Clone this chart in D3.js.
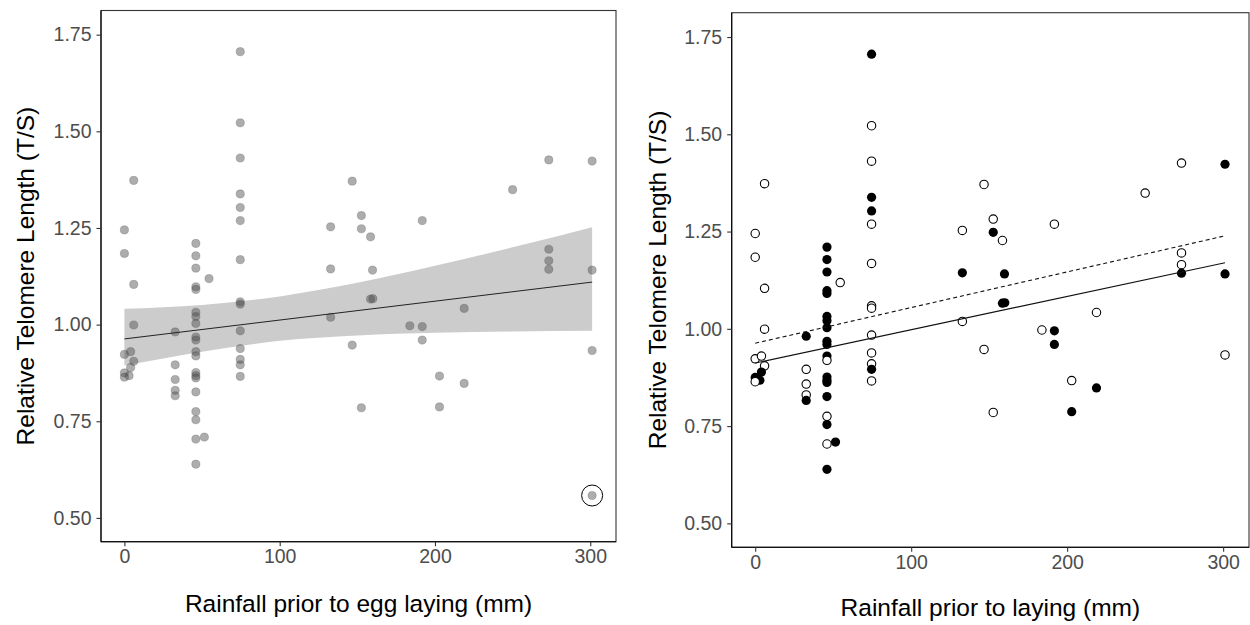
<!DOCTYPE html>
<html>
<head>
<meta charset="utf-8">
<script src="https://cdn.jsdelivr.net/npm/d3@7"></script>
<style>
  html, body { margin: 0; padding: 0; background: #fff; }
  svg { display: block; font-family: "Liberation Sans", Arial, sans-serif; }
</style>
</head>
<body>
<svg id="chart" width="1250" height="625"></svg>
<script>
// ---------------- DATA ----------------
const rainfall = [
  0, 0, 6, 6, 6, 0, 4, 6, 4, 0, 3, 0,
  32.7, 32.7, 32.7, 32.7, 32.7,
  46, 46, 46, 46, 46, 46, 46, 46, 46, 46, 46, 46, 46, 46, 46, 46, 46, 46, 46, 46, 51.5, 54.5,
  74.6, 74.6, 74.6, 74.6, 74.6, 74.6, 74.6, 74.6, 74.6, 74.6, 74.6, 74.6, 74.6, 74.6,
  132.8, 132.8, 132.8, 146.7, 146.7, 152.6, 152.6, 152.6, 158.5, 159.8, 158.5, 160,
  183.8, 191.8, 191.8, 191.8, 202.9, 202.9, 218.8, 218.8, 250,
  273.3, 273.3, 273.3, 273.3, 301.2, 301.2, 301.2
];
const telomere = [
  1.245, 1.184, 1.373, 1.104, 0.999, 0.923, 0.930, 0.905, 0.889, 0.875, 0.868, 0.864,
  0.981, 0.896, 0.858, 0.830, 0.816,
  1.210, 1.178, 1.146, 1.098, 1.091, 1.032, 1.021, 1.003, 0.968, 0.960, 0.930, 0.919, 0.876, 0.868, 0.862, 0.826, 0.775, 0.754, 0.704, 0.639, 0.709, 1.119,
  1.706, 1.522, 1.431, 1.338, 1.303, 1.269, 1.168, 1.059, 1.053, 0.984, 0.938, 0.910, 0.896, 0.866,
  1.253, 1.144, 1.019, 1.371, 0.947, 1.282, 1.248, 0.785, 1.227, 1.141, 1.066, 1.067,
  0.997, 1.269, 0.995, 0.960, 0.867, 0.787, 1.042, 0.848, 1.349,
  1.426, 1.195, 1.165, 1.143, 1.423, 1.141, 0.933
];
// 1 = filled (black), 0 = open
const filledGroup = [
  0, 0, 0, 0, 0, 0, 0, 0, 1, 1, 1, 0,
  1, 0, 0, 0, 1,
  1, 1, 1, 1, 1, 1, 1, 1, 1, 1, 1, 0, 1, 1, 1, 1, 0, 1, 0, 1, 1, 0,
  1, 0, 0, 1, 1, 0, 0, 0, 0, 0, 0, 0, 1, 0,
  0, 1, 0, 0, 0, 0, 1, 0, 0, 1, 1, 1,
  0, 0, 1, 1, 0, 1, 0, 1, 0,
  0, 0, 0, 1, 1, 1, 0
];
// outlier (left panel only, circled)
const outlierRain = [301.2];
const outlierTel = [0.558];

// left panel fit and confidence band
const fitX = [0, 301.2];
const fitY = [0.963, 1.110];
const bandX = [0, 50, 100, 150, 200, 250, 301.2];
const bandLo = [0.894, 0.930, 0.958, 0.972, 0.979, 0.982, 0.984];
const bandHi = [1.041, 1.051, 1.073, 1.108, 1.152, 1.200, 1.252];

// right panel fits
const solidY = [0.912, 1.170];
const dashedY = [0.963, 1.239];

const xTicks = [0, 100, 200, 300];
const yTicks = [0.50, 0.75, 1.00, 1.25, 1.50, 1.75];
const xTitleLeft = "Rainfall prior to egg laying (mm)";
const xTitleRight = "Rainfall prior to laying (mm)";
const yTitle = "Relative Telomere Length (T/S)";

// ---------------- DRAW ----------------
const svg = d3.select("#chart");
const pts = rainfall.map((r, i) => ({ x: r, y: telomere[i], f: filledGroup[i] }));
const xDomain = [-15.075, 316.575];
const yDomain = [0.4385, 1.8125];
const tickFont = "19.5px";
const titleFont = "24.5px";

function panel(box, opts) {
  const x = d3.scaleLinear().domain(xDomain).range([box.left, box.right]);
  const y = d3.scaleLinear().domain(yDomain).range([box.bottom, box.top]);
  const g = svg.append("g");

  g.append("rect").attr("x", box.left).attr("y", box.top)
    .attr("width", box.right - box.left).attr("height", box.bottom - box.top)
    .attr("fill", "#fff");

  opts.draw(g, x, y);

  g.append("rect").attr("x", box.left).attr("y", box.top)
    .attr("width", box.right - box.left).attr("height", box.bottom - box.top)
    .attr("fill", "none").attr("stroke", "#333").attr("stroke-width", 1.1);
  g.append("line").attr("x1", box.left).attr("x2", box.left).attr("y1", box.top).attr("y2", box.bottom)
    .attr("stroke", "#000").attr("stroke-width", 1.1);
  g.append("line").attr("x1", box.left).attr("x2", box.right).attr("y1", box.bottom).attr("y2", box.bottom)
    .attr("stroke", "#000").attr("stroke-width", 1.1);

  const xa = g.append("g").attr("transform", `translate(0,${box.bottom})`)
    .call(d3.axisBottom(x).tickValues(xTicks).tickSize(4.5).tickPadding(3).tickFormat(d3.format("d")));
  xa.select(".domain").remove();
  xa.selectAll("line").attr("stroke", "#333").attr("stroke-width", 1.1);
  xa.selectAll("text").attr("fill", "#4d4d4d").style("font-size", tickFont);

  const ya = g.append("g").attr("transform", `translate(${box.left},0)`)
    .call(d3.axisLeft(y).tickValues(yTicks).tickSize(4.5).tickPadding(5).tickFormat(d3.format(".2f")));
  ya.select(".domain").remove();
  ya.selectAll("line").attr("stroke", "#333").attr("stroke-width", 1.1);
  ya.selectAll("text").attr("fill", "#4d4d4d").style("font-size", tickFont);

  g.append("text").attr("x", (box.left + box.right) / 2).attr("y", opts.xTitleY)
    .attr("text-anchor", "middle").attr("fill", "#000").style("font-size", titleFont)
    .text(opts.xTitle);
  g.append("text")
    .attr("transform", `translate(${opts.yTitleX},${(box.top + box.bottom) / 2}) rotate(-90)`)
    .attr("text-anchor", "middle").attr("fill", "#000").style("font-size", titleFont)
    .text(yTitle);
}

// LEFT PANEL
panel({ left: 101, right: 616, top: 10.5, bottom: 541.7 }, {
  xTitle: xTitleLeft, xTitleY: 611.5, yTitleX: 33.5,
  draw: (g, x, y) => {
    const band = bandX.map((b, i) => ({ x: b, lo: bandLo[i], hi: bandHi[i] }));
    g.append("path").datum(band)
      .attr("d", d3.area().x(d => x(d.x)).y0(d => y(d.lo)).y1(d => y(d.hi)).curve(d3.curveMonotoneX))
      .attr("fill", "#cccccc");
    const all = pts.concat(outlierRain.map((r, i) => ({ x: r, y: outlierTel[i] })));
    g.selectAll("circle.pt").data(all).join("circle").attr("class", "pt")
      .attr("cx", d => x(d.x)).attr("cy", d => y(d.y)).attr("r", 4.1)
      .attr("fill", "#4a4a4a").attr("fill-opacity", 0.45)
      .attr("stroke", "#4a4a4a").attr("stroke-opacity", 0.35).attr("stroke-width", 0.8);
    g.append("path").datum(fitX.map((fx, i) => ({ x: fx, y: fitY[i] })))
      .attr("d", d3.line().x(d => x(d.x)).y(d => y(d.y)))
      .attr("stroke", "#222").attr("stroke-width", 1).attr("fill", "none");
    g.selectAll("circle.ring").data(outlierRain.map((r, i) => ({ x: r, y: outlierTel[i] })))
      .join("circle").attr("class", "ring")
      .attr("cx", d => x(d.x)).attr("cy", d => y(d.y)).attr("r", 10.5)
      .attr("fill", "none").attr("stroke", "#000").attr("stroke-width", 1);
  }
});

// RIGHT PANEL
panel({ left: 731.7, right: 1249, top: 12.7, bottom: 547.3 }, {
  xTitle: xTitleRight, xTitleY: 615.5, yTitleX: 665.5,
  draw: (g, x, y) => {
    g.selectAll("circle.pt").data(pts).join("circle").attr("class", "pt")
      .attr("cx", d => x(d.x)).attr("cy", d => y(d.y)).attr("r", d => d.f ? 4.6 : 4.2)
      .attr("fill", d => d.f ? "#000" : "#fff")
      .attr("stroke", "#000").attr("stroke-width", d => d.f ? 0 : 1.1);
    g.append("path").datum(fitX.map((fx, i) => ({ x: fx, y: solidY[i] })))
      .attr("d", d3.line().x(d => x(d.x)).y(d => y(d.y)))
      .attr("stroke", "#111").attr("stroke-width", 1.1).attr("fill", "none");
    g.append("path").datum(fitX.map((fx, i) => ({ x: fx, y: dashedY[i] })))
      .attr("d", d3.line().x(d => x(d.x)).y(d => y(d.y)))
      .attr("stroke", "#111").attr("stroke-width", 1.1).attr("fill", "none")
      .attr("stroke-dasharray", "4,3");
  }
});
</script>
</body>
</html>
